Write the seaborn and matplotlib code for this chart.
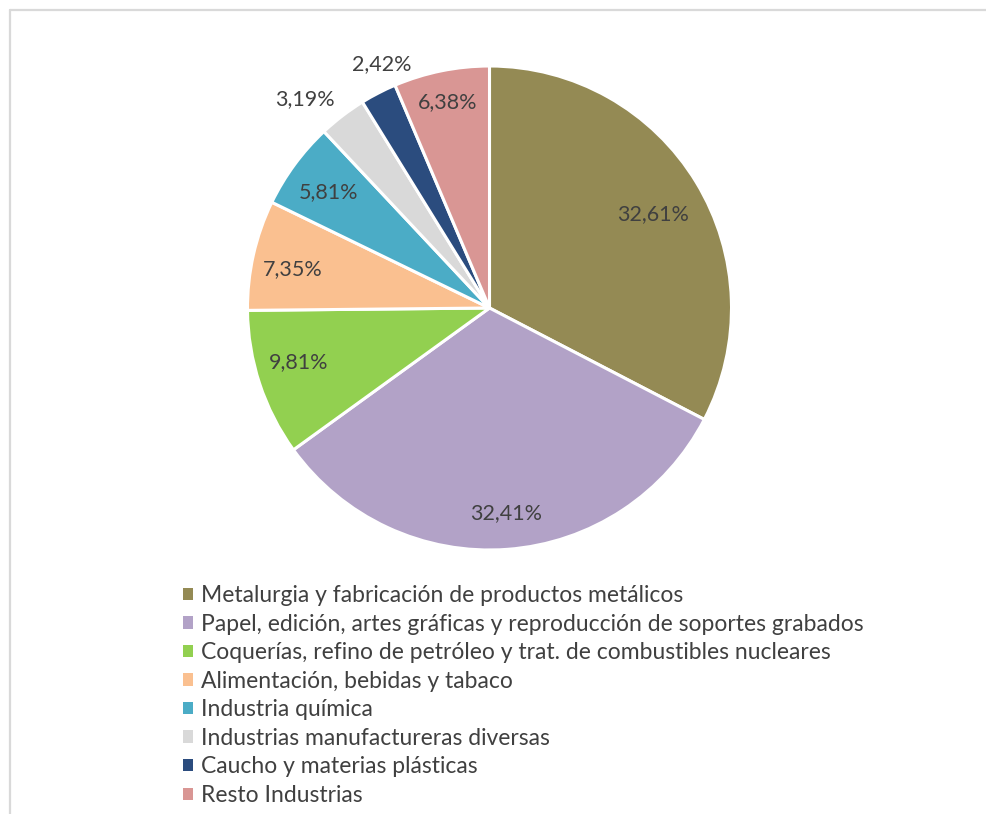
import numpy as np
import matplotlib
matplotlib.use("Agg")
import matplotlib.pyplot as plt
from matplotlib.patches import Patch
from matplotlib.lines import Line2D
import seaborn as sns

categories = [
    "Metalurgia y fabricación de productos metálicos",
    "Papel, edición, artes gráficas y reproducción de soportes grabados",
    "Coquerías, refino de petróleo y trat. de combustibles nucleares",
    "Alimentación, bebidas y tabaco",
    "Industria química",
    "Industrias manufactureras diversas",
    "Caucho y materias plásticas",
    "Resto Industrias",
]
values = [32.61, 32.41, 9.81, 7.35, 5.81, 3.19, 2.42, 6.38]
labels = ["32,61%", "32,41%", "9,81%", "7,35%", "5,81%", "3,19%", "2,42%", "6,38%"]
colors = ["#948A54", "#B2A2C7", "#92D050", "#FAC090", "#4BACC6", "#D9D9D9", "#2B4C7E", "#D99694"]
label_dist = [0.78, 0.85, 0.82, 0.83, 0.82, 1.15, 1.10, 0.87]
label_shift = [-1.5, 0.5, -2.5, 1.5, 0.5, 4.0, -3.5, 0.0]

sns.set_theme(style="white")
plt.rcParams["font.family"] = ["Lato", "DejaVu Sans"]

W, H = 986, 814
fig = plt.figure(figsize=(W / 100, H / 100), dpi=100)

cx, cy, r = 489.5, 308, 242
ax = fig.add_axes([(cx - r) / W, (H - cy - r) / H, 2 * r / W, 2 * r / H])
wedges, _ = ax.pie(values, colors=colors, startangle=90, counterclock=False,
                   wedgeprops=dict(edgecolor="white", linewidth=2.2))
ax.set_xlim(-1, 1)
ax.set_ylim(-1, 1)
ax.set_aspect("equal")
ax.axis("off")

for w, lab, d, s in zip(wedges, labels, label_dist, label_shift):
    ang = np.deg2rad((w.theta1 + w.theta2) / 2 + s)
    ax.text(d * np.cos(ang), d * np.sin(ang), lab, ha="center", va="center",
            fontsize=15.5, color="#404040")

handles = [Patch(facecolor=c, edgecolor="none") for c in colors]
fig.legend(handles, categories, loc="upper left",
           bbox_to_anchor=(183 / W, (H - 585) / H), frameon=False,
           fontsize=16.5, labelcolor="#404040", handlelength=0.45,
           handleheight=0.45, handletextpad=0.35, labelspacing=0.33,
           borderaxespad=0, borderpad=0)

# chart area border (light gray), open at right and bottom
fig.add_artist(Line2D([9.5 / W, 9.5 / W], [0, (H - 9.5) / H], color="#D9D9D9",
                      lw=1.6, transform=fig.transFigure))
fig.add_artist(Line2D([9.5 / W, 1], [(H - 9.5) / H, (H - 9.5) / H], color="#D9D9D9",
                      lw=1.6, transform=fig.transFigure))

fig.savefig("out.png", dpi=100, facecolor="white")
